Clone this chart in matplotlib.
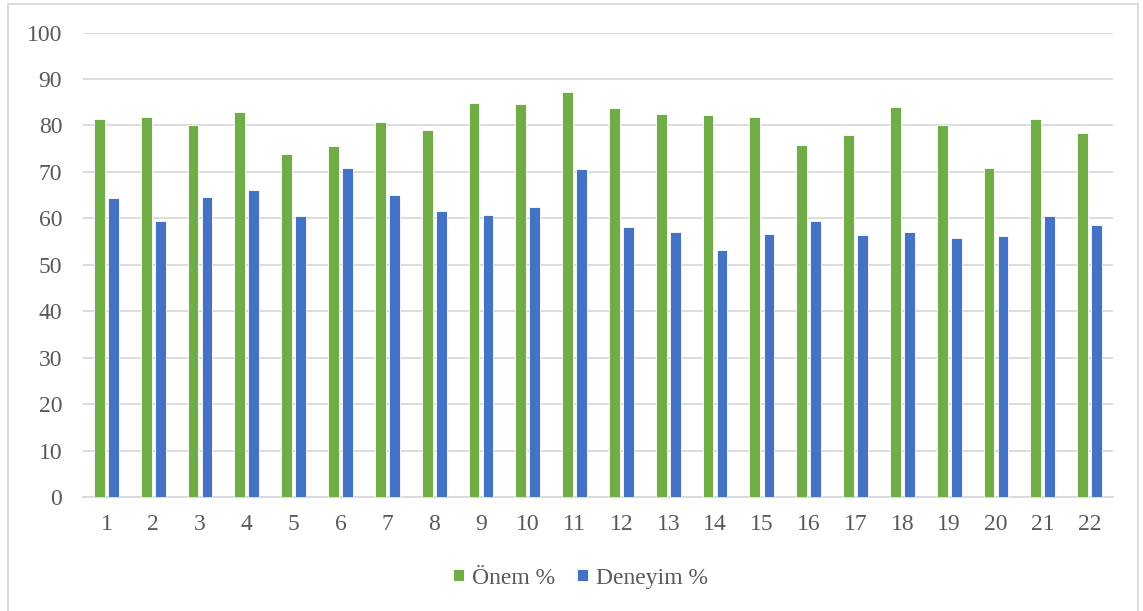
import matplotlib
matplotlib.use("Agg")
import matplotlib.pyplot as plt
import numpy as np
from matplotlib.patches import Rectangle

categories = [str(i) for i in range(1, 23)]
onem = [81.4, 81.9, 80.1, 82.9, 73.9, 75.6, 80.7, 79.0, 84.8, 84.6, 87.2,
        83.7, 82.4, 82.3, 81.9, 75.7, 78.0, 84.0, 80.1, 70.8, 81.4, 78.4]
deneyim = [64.3, 59.4, 64.6, 66.1, 60.6, 70.9, 65.0, 61.7, 60.7, 62.5, 70.6,
           58.1, 57.2, 53.3, 56.7, 59.5, 56.4, 57.2, 55.7, 56.2, 60.6, 58.7]

GREEN = "#70AD47"
BLUE = "#4472C4"
TEXT = "#595959"
GRID = "#D9D9D9"

plt.rcParams["font.family"] = ["Liberation Serif", "DejaVu Serif"]

fig = plt.figure(figsize=(11.43, 6.11), dpi=100)
ax = fig.add_axes([0.0726, 0.1858, 0.9012, 0.761])

x = np.arange(len(categories))
width = 0.23
ax.bar(x - 0.15, onem, width, color=GREEN, edgecolor="white", linewidth=0.6, label="Önem %", zorder=3)
ax.bar(x + 0.15, deneyim, width, color=BLUE, edgecolor="white", linewidth=0.6, label="Deneyim %", zorder=3)

ax.set_xlim(-0.5, len(categories) - 0.5)
ax.set_ylim(0, 100)
ax.set_yticks(range(0, 101, 10))
ax.set_xticks(x)
ax.set_xticklabels(categories)
ax.yaxis.grid(True, color=GRID, linewidth=1.3, zorder=0)
ax.set_axisbelow(True)
for side in ("top", "right", "left"):
    ax.spines[side].set_visible(False)
ax.spines["bottom"].set_color(GRID)
ax.spines["bottom"].set_linewidth(1.3)
ax.tick_params(axis="both", length=0, labelsize=17, labelcolor=TEXT)
ax.tick_params(axis="y", pad=15)
ax.tick_params(axis="x", pad=12)

leg = fig.legend(loc="center", bbox_to_anchor=(0.508, 0.054), ncol=2, frameon=False,
                 fontsize=17, handlelength=0.45, handleheight=0.45, handletextpad=0.35,
                 columnspacing=0.95)
for t in leg.get_texts():
    t.set_color(TEXT)

# outer chart frame (bottom edge runs off the canvas)
fig.patches.append(Rectangle((8 / 1143, -10 / 611), 1130 / 1143, 617 / 611,
                             transform=fig.transFigure, fill=False,
                             edgecolor=GRID, linewidth=1.3))

fig.savefig("out.png", dpi=100)
